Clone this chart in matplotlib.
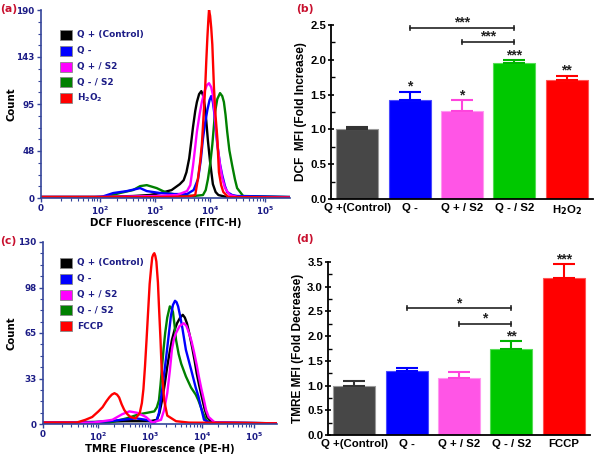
import matplotlib
matplotlib.use("Agg")
import matplotlib.pyplot as plt
import numpy as np
from matplotlib.patches import Rectangle
from matplotlib.ticker import FixedLocator, MultipleLocator

# ---------------- data ----------------
# panel (a): DCF histograms, x = log10(fluorescence) position, y = count
a_black_x = [0.93, 2.0, 2.6, 2.9, 3.1, 3.3, 3.45, 3.52, 3.57, 3.62, 3.66, 3.69, 3.73, 3.76, 3.8, 3.84, 3.87, 3.9, 3.93, 3.96, 4.0, 4.05, 4.1, 4.15, 4.3, 5.45]
a_black_y = [1, 1, 2, 3, 5, 8, 14, 18, 26, 40, 58, 72, 88, 97, 105, 108, 104, 94, 78, 58, 36, 14, 6, 3, 1, 0.5]
a_blue_x = [0.93, 1.9, 2.05, 2.24, 2.49, 2.73, 2.85, 3.09, 3.33, 3.58, 3.7, 3.78, 3.83, 3.87, 3.91, 3.95, 3.99, 4.02, 4.05, 4.08, 4.13, 4.18, 4.22, 4.27, 4.31, 4.4, 4.49, 5.45]
a_blue_y = [1, 1, 1.5, 5, 7, 10, 7, 5, 4, 4, 8, 19, 38, 60, 76, 89, 99, 103, 97, 84, 54, 34, 23, 12, 6, 3, 2, 1]
a_magenta_x = [0.93, 2.0, 3.0, 3.4, 3.58, 3.64, 3.69, 3.73, 3.76, 3.81, 3.85, 3.9, 3.94, 3.98, 4.02, 4.05, 4.08, 4.11, 4.15, 4.18, 4.22, 4.27, 4.36, 4.5, 5.45]
a_magenta_y = [1, 1, 2, 3, 7, 13, 33, 52, 67, 85, 97, 108, 114, 116, 112, 104, 87, 67, 46, 33, 20, 10, 3, 1, 0.5]
a_green_x = [0.93, 2.0, 2.12, 2.36, 2.6, 2.73, 2.85, 3.03, 3.22, 3.45, 3.7, 3.87, 3.92, 3.96, 4.0, 4.04, 4.09, 4.13, 4.18, 4.22, 4.25, 4.28, 4.31, 4.35, 4.4, 4.45, 4.49, 4.6, 5.45]
a_green_y = [1, 1, 1.5, 5, 8, 12, 13, 10, 5, 3, 2, 3, 8, 19, 34, 54, 87, 100, 106, 103, 97, 84, 67, 48, 33, 19, 10, 2, 1]
a_red_x = [0.93, 3.0, 3.6, 3.73, 3.78, 3.82, 3.85, 3.88, 3.91, 3.93, 3.95, 3.97, 3.98, 4.0, 4.02, 4.04, 4.07, 4.1, 4.13, 4.16, 4.2, 4.24, 4.33, 5.45]
a_red_y = [1, 1, 1.5, 3, 20, 37, 54, 82, 111, 138, 162, 182, 190, 184, 172, 155, 111, 82, 61, 26, 13, 6, 1, 0.5]

# panel (c): TMRE histograms
c_black_x = [0.92, 2.0, 2.5, 3.0, 3.13, 3.18, 3.23, 3.28, 3.33, 3.38, 3.42, 3.47, 3.52, 3.58, 3.63, 3.67, 3.71, 3.76, 3.81, 3.86, 3.9, 3.95, 4.0, 4.05, 4.1, 4.2, 5.45]
c_black_y = [1, 1.5, 2, 2, 3, 8, 17, 28, 41, 52, 60, 67, 72, 76, 78, 76, 72, 64, 55, 45, 36, 27, 19, 11, 5, 1, 0.5]
c_blue_x = [0.92, 1.8, 2.21, 2.46, 2.73, 2.92, 3.08, 3.13, 3.17, 3.23, 3.27, 3.31, 3.36, 3.4, 3.44, 3.48, 3.51, 3.54, 3.58, 3.62, 3.69, 3.74, 3.79, 3.88, 3.93, 3.98, 4.04, 4.15, 5.45]
c_blue_y = [1, 1, 2, 3, 4, 3, 1, 3, 8, 24, 36, 48, 64, 77, 85, 88, 87, 84, 77, 69, 53, 46, 39, 26, 20, 12, 3, 1, 0.5]
c_magenta_x = [0.92, 1.9, 2.27, 2.46, 2.6, 2.75, 2.92, 3.04, 3.21, 3.27, 3.33, 3.38, 3.42, 3.46, 3.5, 3.57, 3.65, 3.7, 3.75, 3.8, 3.85, 3.9, 3.94, 3.99, 4.04, 4.08, 4.13, 4.25, 5.45]
c_magenta_y = [1, 1, 3, 7, 9, 8, 5, 1, 3, 10, 22, 38, 53, 61, 65, 70, 72, 70, 65, 59, 51, 42, 34, 25, 17, 10, 5, 1, 0.5]
c_green_x = [0.92, 1.9, 2.21, 2.54, 2.79, 2.94, 3.08, 3.13, 3.17, 3.2, 3.23, 3.26, 3.29, 3.33, 3.38, 3.41, 3.44, 3.47, 3.5, 3.55, 3.6, 3.69, 3.79, 3.88, 3.93, 3.98, 4.03, 4.08, 4.15, 5.45]
c_green_y = [1, 1, 1, 4, 7, 8, 9, 12, 17, 28, 41, 54, 65, 76, 84, 83, 80, 71, 60, 50, 43, 34, 26, 21, 17, 12, 7, 3, 1, 0.5]
c_red_x = [0.92, 1.58, 1.75, 1.88, 2.0, 2.08, 2.15, 2.21, 2.26, 2.31, 2.36, 2.4, 2.45, 2.5, 2.56, 2.62, 2.72, 2.8, 2.84, 2.87, 2.9, 2.93, 2.96, 2.99, 3.02, 3.04, 3.06, 3.08, 3.1, 3.12, 3.15, 3.17, 3.2, 3.22, 3.25, 3.27, 3.33, 3.5, 3.75, 5.45]
c_red_y = [1, 1, 3, 5, 9, 12, 16, 19, 21, 22, 21, 19, 14, 10, 7, 5, 4, 8, 15, 25, 41, 60, 80, 100, 112, 119, 121, 122, 120, 116, 101, 84, 60, 41, 27, 17, 6, 2, 1, 0.5]

hist_tick_pos = [0.93, 2, 3, 4, 5]
hist_tick_lbl = ["0", r"$\mathbf{10^{2}}$", r"$\mathbf{10^{3}}$", r"$\mathbf{10^{4}}$", r"$\mathbf{10^{5}}$"]
a_yticks = [0, 47.5, 95, 142.5, 190]
a_ytick_lbl = ["0", "48", "95", "143", "190"]
c_yticks = [0, 32.5, 65, 97.5, 130]
c_ytick_lbl = ["0", "33", "65", "98", "130"]

a_legend = ["Q + (Control)", "Q -", "Q + / S2", "Q - / S2", r"H$_\mathbf{2}$O$_\mathbf{2}$"]
c_legend = ["Q + (Control)", "Q -", "Q + / S2", "Q - / S2", "FCCP"]

# panel (b) / (d): bar charts
b_cats = ["Q +(Control)", "Q -", "Q + / S2", "Q - / S2", r"H$_\mathbf{2}$O$_\mathbf{2}$"]
b_vals = [1.00, 1.42, 1.27, 1.96, 1.71]
b_errs = [0.04, 0.12, 0.15, 0.03, 0.06]
b_stars = ["", "*", "*", "***", "**"]
b_brackets = [(1, 3, 2.46, "***"), (2, 3, 2.26, "***")]

d_cats = ["Q +(Control)", "Q -", "Q + / S2", "Q - / S2", "FCCP"]
d_vals = [1.00, 1.30, 1.16, 1.74, 3.17]
d_errs = [0.09, 0.06, 0.12, 0.16, 0.29]
d_stars = ["", "", "", "**", "***"]
d_brackets = [(1, 3, 2.57, "*"), (2, 3, 2.25, "*")]

# ---------------- style ----------------
navy = "#1c1c86"
axcol = "#34449a"
labred = "#c8102e"
line_cols = ["#000000", "#0000ff", "#ff00ff", "#008000", "#ff0000"]
bar_cols = ["#474747", "#0000ff", "#ff55e6", "#00c800", "#ff0000"]
bar_edge = ["#9a9a9a", "#4a4aff", "#ff99f0", "#55dd55", "#ff5555"]
err_cols = ["#333333", "#0000ff", "#ff44dd", "#00b400", "#ff0000"]

W, H = 594, 462
fig = plt.figure(figsize=(W / 100, H / 100), dpi=100)


def px_axes(l, t, r, b):
    return fig.add_axes([l / W, 1 - b / H, (r - l) / W, (b - t) / H])


def hist_panel(ax, series, ylim, yt, ytl, legend, xlabel, leg_top, left_px, width_px):
    order = [0, 3, 1, 2, 4]
    for i in order:
        xs, ys = series[i]
        ax.plot(xs, ys, color=line_cols[i], lw=1.7, solid_joinstyle="round")
    ax.set_xlim(0.93, 5.45)
    ax.set_ylim(0, ylim)
    for s in ["top", "right"]:
        ax.spines[s].set_visible(False)
    for s in ["left", "bottom"]:
        ax.spines[s].set_color(axcol)
        ax.spines[s].set_linewidth(1.2)
    ax.set_yticks(yt)
    ax.set_yticklabels(ytl)
    ax.yaxis.set_minor_locator(MultipleLocator(yt[1] / 4))
    ax.set_xticks(hist_tick_pos)
    ax.set_xticklabels(hist_tick_lbl)
    minors = [np.log10(k) + d for d in [2, 3, 4] for k in range(2, 10)] + [1.3, 1.48, 1.6, 1.7, 1.78, 1.85, 1.9, 1.95]
    ax.xaxis.set_minor_locator(FixedLocator(minors))
    ax.tick_params(axis="both", which="major", colors=axcol, labelcolor=navy, labelsize=6.3,
                   length=3, width=1, pad=1.5)
    ax.tick_params(axis="both", which="minor", colors=axcol, length=2, width=0.8)
    for t in ax.get_yticklabels() + ax.get_xticklabels():
        t.set_fontweight("bold")
    ax.set_ylabel("Count", fontsize=7.3, fontweight="bold")
    ax.yaxis.set_label_coords((17 - left_px) / width_px, 0.5)
    ax.set_xlabel(xlabel, fontsize=7.3, fontweight="bold", labelpad=1)
    # legend
    for i, name in enumerate(legend):
        y = leg_top + i * 15.8
        fig.patches.append(Rectangle((60 / W, 1 - (y + 5) / H), 12 / W, 10 / H,
                                     transform=fig.transFigure, facecolor=line_cols[i],
                                     edgecolor="#888888", lw=0.6))
        fig.text(77 / W, 1 - y / H, name, color=navy, fontsize=6.4, fontweight="bold",
                 va="center", ha="left")


def bar_panel(ax, cats, vals, errs, stars, brackets, ylim, ylabel, fs_star=10):
    x = np.arange(len(cats))
    ax.bar(x, vals, width=0.8, color=bar_cols, edgecolor=bar_edge, linewidth=0.8, zorder=2)
    for i in range(len(x)):
        ax.errorbar(x[i], vals[i], yerr=[[0], [errs[i]]], fmt="none", ecolor=err_cols[i],
                    elinewidth=1.5, capsize=8, capthick=1.5, zorder=3)
        if stars[i]:
            ax.text(x[i], vals[i] + errs[i] - ylim * 0.012, stars[i], ha="center", va="bottom",
                    fontsize=fs_star, fontweight="bold", color="#222222", family="Liberation Sans")
    for (x0, x1, y, s) in brackets:
        ax.plot([x0, x1], [y, y], color="#222222", lw=1.2, zorder=4)
        ax.plot([x0, x0], [y - ylim * 0.012, y + ylim * 0.012], color="#222222", lw=1.2)
        ax.plot([x1, x1], [y - ylim * 0.012, y + ylim * 0.012], color="#222222", lw=1.2)
        ax.text((x0 + x1) / 2, y - ylim * 0.012, s, ha="center", va="bottom", fontsize=fs_star,
                fontweight="bold", color="#222222", family="Liberation Sans")
    ax.set_xlim(-0.5, 4.5)
    ax.set_ylim(0, ylim)
    ax.set_xticks(x)
    ax.set_xticklabels(cats)
    for s in ["top", "right"]:
        ax.spines[s].set_visible(False)
    for s in ["left", "bottom"]:
        ax.spines[s].set_linewidth(1.3)
    ax.yaxis.set_major_locator(MultipleLocator(0.5))
    ax.yaxis.set_minor_locator(MultipleLocator(0.25))
    ax.yaxis.set_major_formatter(matplotlib.ticker.FormatStrFormatter("%.1f"))
    ax.tick_params(axis="y", which="major", direction="inout", length=5, width=1.2, labelsize=8.2, pad=1)
    ax.tick_params(axis="y", which="minor", direction="in", length=3, width=1)
    ax.tick_params(axis="x", length=0, labelsize=8.2, pad=3)
    for t in ax.get_yticklabels() + ax.get_xticklabels():
        t.set_fontweight("bold")
        t.set_family("Liberation Sans")
    ax.set_ylabel(ylabel, fontsize=8.6, fontweight="bold", family="Liberation Sans", labelpad=2)


ax_a = px_axes(41, 10, 290, 198)
hist_panel(ax_a, [(a_black_x, a_black_y), (a_blue_x, a_blue_y), (a_magenta_x, a_magenta_y),
                  (a_green_x, a_green_y), (a_red_x, a_red_y)],
           190, a_yticks, a_ytick_lbl, a_legend, "DCF Fluorescence (FITC-H)", 35, 41, 249)

ax_c = px_axes(43, 242, 277, 424)
hist_panel(ax_c, [(c_black_x, c_black_y), (c_blue_x, c_blue_y), (c_magenta_x, c_magenta_y),
                  (c_green_x, c_green_y), (c_red_x, c_red_y)],
           130, c_yticks, c_ytick_lbl, c_legend, "TMRE Fluorescence (PE-H)", 263, 43, 234)

ax_b = px_axes(331, 25, 593, 199)
bar_panel(ax_b, b_cats, b_vals, b_errs, b_stars, b_brackets, 2.5, "DCF  MFI (Fold Increase)")

ax_d = px_axes(328, 262, 590, 435)
bar_panel(ax_d, d_cats, d_vals, d_errs, d_stars, d_brackets, 3.5, "TMRE MFI (Fold Decrease)")

for lbl, (xp, yp) in zip(["(a)", "(b)", "(c)", "(d)"], [(0, 9), (296, 9), (0, 241), (296, 239)]):
    fig.text(xp / W, 1 - yp / H, lbl, color=labred, fontsize=7.8, fontweight="bold",
             va="center", ha="left")

fig.savefig("out.png", dpi=100)
